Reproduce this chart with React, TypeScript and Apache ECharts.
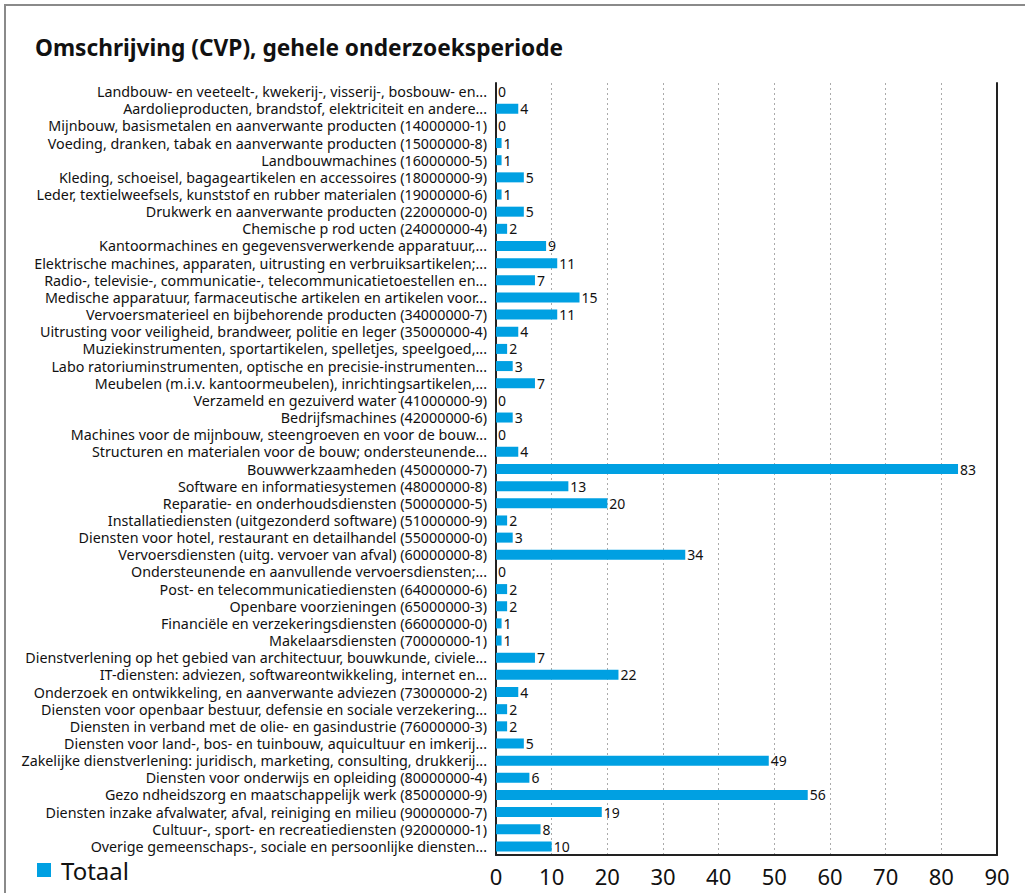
import React, { useEffect, useRef } from "react";
import * as echarts from "echarts";

const categories: string[] = [
  "Landbouw- en veeteelt-, kwekerij-, visserij-, bosbouw- en...",
  "Aardolieproducten, brandstof, elektriciteit en andere...",
  "Mijnbouw, basismetalen en aanverwante producten (14000000-1)",
  "Voeding, dranken, tabak en aanverwante producten (15000000-8)",
  "Landbouwmachines (16000000-5)",
  "Kleding, schoeisel, bagageartikelen en accessoires (18000000-9)",
  "Leder, textielweefsels, kunststof en rubber materialen (19000000-6)",
  "Drukwerk en aanverwante producten (22000000-0)",
  "Chemische p rod ucten (24000000-4)",
  "Kantoormachines en gegevensverwerkende apparatuur,...",
  "Elektrische machines, apparaten, uitrusting en verbruiksartikelen;...",
  "Radio-, televisie-, communicatie-, telecommunicatietoestellen en...",
  "Medische apparatuur, farmaceutische artikelen en artikelen voor...",
  "Vervoersmaterieel en bijbehorende producten (34000000-7)",
  "Uitrusting voor veiligheid, brandweer, politie en leger (35000000-4)",
  "Muziekinstrumenten, sportartikelen, spelletjes, speelgoed,...",
  "Labo ratoriuminstrumenten, optische en precisie-instrumenten...",
  "Meubelen (m.i.v. kantoormeubelen), inrichtingsartikelen,...",
  "Verzameld en gezuiverd water (41000000-9)",
  "Bedrijfsmachines (42000000-6)",
  "Machines voor de mijnbouw, steengroeven en voor de bouw...",
  "Structuren en materialen voor de bouw; ondersteunende...",
  "Bouwwerkzaamheden (45000000-7)",
  "Software en informatiesystemen (48000000-8)",
  "Reparatie- en onderhoudsdiensten (50000000-5)",
  "Installatiediensten (uitgezonderd software) (51000000-9)",
  "Diensten voor hotel, restaurant en detailhandel (55000000-0)",
  "Vervoersdiensten (uitg. vervoer van afval) (60000000-8)",
  "Ondersteunende en aanvullende vervoersdiensten;...",
  "Post- en telecommunicatiediensten (64000000-6)",
  "Openbare voorzieningen (65000000-3)",
  "Financiële en verzekeringsdiensten (66000000-0)",
  "Makelaarsdiensten (70000000-1)",
  "Dienstverlening op het gebied van architectuur, bouwkunde, civiele...",
  "IT-diensten: adviezen, softwareontwikkeling, internet en...",
  "Onderzoek en ontwikkeling, en aanverwante adviezen (73000000-2)",
  "Diensten voor openbaar bestuur, defensie en sociale verzekering...",
  "Diensten in verband met de olie- en gasindustrie (76000000-3)",
  "Diensten voor land-, bos- en tuinbouw, aquicultuur en imkerij...",
  "Zakelijke dienstverlening: juridisch, marketing, consulting, drukkerij...",
  "Diensten voor onderwijs en opleiding (80000000-4)",
  "Gezo ndheidszorg en maatschappelijk werk (85000000-9)",
  "Diensten inzake afvalwater, afval, reiniging en milieu (90000000-7)",
  "Cultuur-, sport- en recreatiediensten (92000000-1)",
  "Overige gemeenschaps-, sociale en persoonlijke diensten...",
];

const totaal: number[] = [
  0, 4, 0, 1, 1, 5, 1, 5, 2, 9, 11, 7, 15, 11, 4, 2, 3, 7, 0, 3, 0, 4, 83, 13, 20,
  2, 3, 34, 0, 2, 2, 1, 1, 7, 22, 4, 2, 2, 5, 49, 6, 56, 19, 8, 10,
];

const seriesName = "Totaal";
const titleText = "Omschrijving (CVP), gehele onderzoeksperiode";

const FONT = "'Noto Sans', 'Open Sans', sans-serif";

export default function App() {
  const ref = useRef<HTMLDivElement>(null);
  useEffect(() => {
    if (!ref.current) return;
    const chart = echarts.init(ref.current, undefined, { renderer: "svg" });
    chart.setOption({
      animation: false,
      backgroundColor: "#ffffff",
      textStyle: { fontFamily: FONT },
      title: {
        text: titleText,
        left: 30,
        top: 31,
        textStyle: { fontSize: 22.7, fontWeight: "bold", color: "#111", fontFamily: FONT },
      },
      legend: {
        left: 32,
        bottom: 6,
        itemWidth: 14,
        itemHeight: 14,
        icon: "rect",
        textStyle: { fontSize: 24, color: "#111", fontFamily: FONT, padding: [0, 0, 0, 5] },
        data: [seriesName],
      },
      graphic: [
        {
          type: "rect",
          shape: { x: 5, y: 5, width: 1040, height: 920 },
          style: { fill: "none", stroke: "#8a8a8a", lineWidth: 2 },
          silent: true,
        },
      ],
      grid: { left: 496, right: 28, top: 83, bottom: 38, containLabel: false },
      xAxis: {
        type: "value",
        min: 0,
        max: 90,
        interval: 10,
        axisLine: { show: true, lineStyle: { color: "#222", width: 2 } },
        axisTick: { show: false },
        axisLabel: { fontSize: 22, color: "#111", margin: 10, fontFamily: FONT },
        splitLine: { show: true, lineStyle: { color: "#aaa", type: [2, 3], width: 1 } },
      },
      yAxis: [
        {
          type: "category",
          data: categories,
          inverse: true,
          axisLine: { show: true, lineStyle: { color: "#222", width: 2 } },
          axisTick: { show: false },
          axisLabel: {
            interval: 0,
            fontSize: 14.3,
            lineHeight: 16,
            color: "#111",
            margin: 9,
            fontFamily: FONT,
          },
        },
        {
          type: "category",
          data: categories,
          inverse: true,
          position: "right",
          axisLine: { show: true, onZero: false, lineStyle: { color: "#222", width: 2 } },
          axisTick: { show: false },
          axisLabel: { show: false },
        },
      ],
      series: [
        {
          name: seriesName,
          type: "bar",
          data: totaal,
          barWidth: 10,
          itemStyle: { color: "#00a0e2" },
          label: {
            show: true,
            position: "right",
            distance: 2,
            fontSize: 14,
            color: "#111",
            fontFamily: FONT,
          },
        },
      ],
    });
    return () => chart.dispose();
  }, []);
  return (
    <div
      ref={ref}
      style={{ position: "fixed", left: 0, top: 0, width: 1025, height: 893 }}
    />
  );
}
